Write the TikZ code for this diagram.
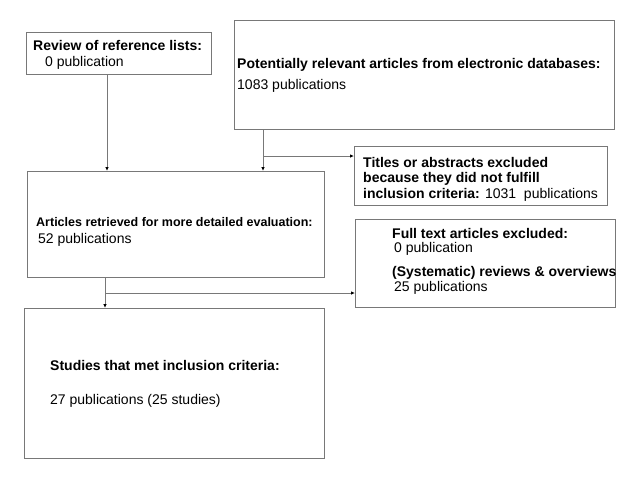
\documentclass[tikz,border=0pt]{standalone}
\usepackage{fontspec}
\setmainfont{Liberation Sans}
\usetikzlibrary{arrows.meta}
\definecolor{linegray}{RGB}{120,120,120}
\tikzset{
  box/.style={draw=linegray, line width=0.9pt, inner sep=0pt, anchor=north west},
  txt/.style={anchor=base west, inner sep=0pt, font=\fontsize{14}{16}\selectfont},
  txtsm/.style={anchor=base west, inner sep=0pt, font=\fontsize{12.5}{14}\selectfont},
  arr/.style={draw=linegray, line width=0.9pt, -{Latex[length=4pt,width=3.5pt,color=black]}},
  ln/.style={draw=linegray, line width=0.9pt}
}
\begin{document}
\begin{tikzpicture}[x=1pt,y=-1pt]
\useasboundingbox (0,0) rectangle (640,480);
\fill[white] (0,0) rectangle (640,480);
% boxes
\node[box, minimum width=185pt, minimum height=42pt] (A) at (26,32) {};
\node[box, minimum width=380pt, minimum height=109pt] (B) at (234,20) {};
\node[box, minimum width=253pt, minimum height=59pt] (C) at (354,146) {};
\node[box, minimum width=297pt, minimum height=106pt] (D) at (27,171) {};
\node[box, minimum width=260pt, minimum height=88pt] (F) at (355,219) {};
\node[box, minimum width=300pt, minimum height=150pt] (E) at (24,308) {};
% texts
\node[txt] (a1) at (33,50) {\bfseries Review of reference lists:};
\node[txt] (a2) at (45,66) {0 publication};
\node[txt] (b1) at (237,68) {\bfseries Potentially relevant articles from electronic databases:};
\node[txt] (b2) at (237,89) {1083 publications};
\node[txt] (c1) at (363,167) {\bfseries Titles or abstracts excluded};
\node[txt] (c2) at (363,182) {\bfseries because they did not fulfill};
\node[txt] (c3) at (363,198) {\bfseries inclusion criteria:\mdseries{} 1031~~publications};
\node[txtsm] (d1) at (36,226.5) {\bfseries Articles retrieved for more detailed evaluation:};
\node[txt] (d2) at (38,243) {52 publications};
\node[txt] (f1) at (392,238) {\bfseries Full text articles excluded:};
\node[txt] (f2) at (394,252) {0 publication};
\node[txt] (f3) at (392,276) {\bfseries (Systematic) reviews \& overviews};
\node[txt] (f4) at (394,291) {25 publications};
\node[txt] (e1) at (50,370) {\bfseries Studies that met inclusion criteria:};
\node[txt] (e2) at (50,404) {27 publications (25 studies)};
% connectors
\coordinate (xa) at (107,0);
\coordinate (xb) at (263,0);
\coordinate (j1) at (263,156);
\coordinate (xd) at (105,0);
\coordinate (j2) at (105,293);
\draw[arr] (xa |- A.south) -- (xa |- D.north);
\draw[arr] (xb |- B.south) -- (xb |- D.north);
\draw[arr] (j1) -- (j1 -| C.west);
\draw[arr] (xd |- D.south) -- (xd |- E.north);
\draw[arr] (j2) -- (j2 -| F.west);
\end{tikzpicture}
\end{document}
